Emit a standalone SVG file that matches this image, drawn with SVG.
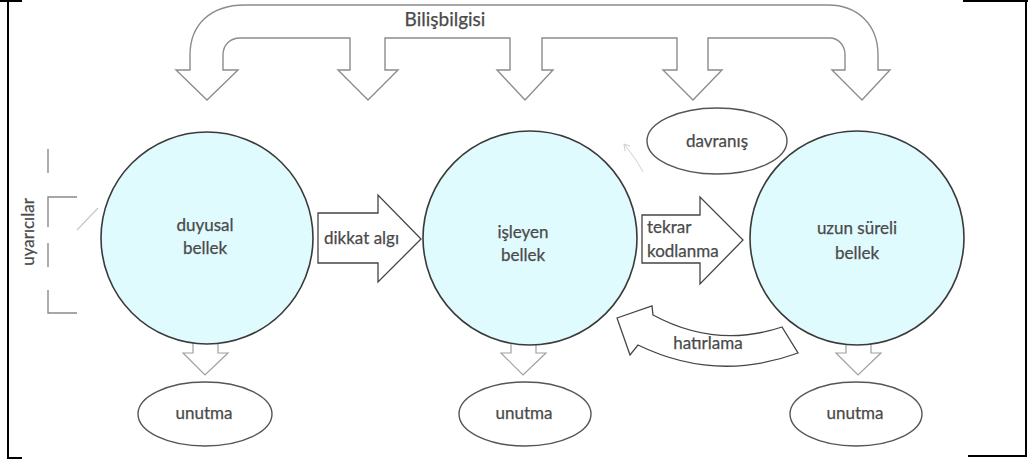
<svg xmlns="http://www.w3.org/2000/svg" width="1028" height="459" viewBox="0 0 1028 459">
<style>
.t{font-family:Lato,"Open Sans","Liberation Sans",sans-serif;font-size:17px;fill:#4a4a4a;stroke:#4a4a4a;stroke-width:0.25;}
.c{fill:#e0fbfd;stroke:#3a3a3a;stroke-width:1.6;}
.e{fill:#fff;stroke:#555;stroke-width:1.4;}
.big{fill:#fff;stroke:#8c8c8c;stroke-width:1.4;stroke-linejoin:miter;}
.arr{fill:#fff;stroke:#444;stroke-width:1.3;}
.sm{fill:#fff;stroke:#a0a0a0;stroke-width:1.2;}
.br{fill:none;stroke:#8a8a8a;stroke-width:1.4;}
.fr{fill:none;stroke:#000;stroke-width:2;}
</style>
<rect width="1028" height="459" fill="#fff"/>
<g id="frame">
<path class="fr" d="M0,1 H22 M8,0 V458 H22"/>
<path class="fr" d="M963,1 H1028 M1026,0 V456 H968"/>
</g>
<g id="connectors">
<path class="big" d="M190,70 L190,55 C190,25 210,5 245,5 L828,5 C858,5 878,25 878,55 L878,70 L890,70 L862,100 L832,70 L845,70 L845,55 C845,45 838,38 830,38 L708,38 L708,70 L722,70 L693,100 L663,70 L677,70 L677,38 L542,38 L542,70 L553,70 L525,100 L497,70 L510,70 L510,38 L385,38 L385,70 L398,70 L368,100 L338,70 L350,70 L350,38 L240,38 C230,38 223,45 223,55 L223,70 L238,70 L207,100 L176,70 Z"/>
<text class="t" x="445" y="26" text-anchor="middle" style="font-size:19px">Bilişbilgisi</text>
<path class="arr" d="M318,213 L378,213 L378,195 L421,239 L378,282 L378,263 L318,263 Z"/>
<text class="t" x="324" y="244">dikkat algı</text>
<path class="arr" d="M642,215 L700,215 L700,197 L743,240 L700,284 L700,263 L642,263 Z"/>
<text class="t" x="647" y="233">tekrar</text>
<text class="t" x="647" y="257">kodlanma</text>
<path class="arr" d="M617,318 L652,306 L653,315 Q716,349 782,327 L798,353 Q716,383 638,345 L630,355 Z" stroke="#777"/>
<text class="t" x="708" y="349" text-anchor="middle">hatırlama</text>
<path class="sm" d="M193,335 V353 H183 L205,375 L228,353 H218 V335 Z"/>
<path class="sm" d="M511,335 V353 H501 L523,375 L546,353 H536 V335 Z"/>
<path class="sm" d="M846,335 V353 H836 L858,375 L881,353 H871 V335 Z"/>
<path d="M77,230 L98,208" stroke="#c8c8c8" stroke-width="1.2" fill="none"/>
<path d="M643,172 L636,160 L630,152 L624,144 M624,144 L625,151 M624,144 L630,146" stroke="#cfcfcf" stroke-width="1" fill="none"/>
</g>
<g id="uyaricilar">
<path class="br" d="M48,149 V173 M77,197 H48 V227 M48,243 V267 M48,290 V313 H77"/>
<text class="t" transform="translate(34,232) rotate(-90)" text-anchor="middle">uyarıcılar</text>
</g>
<g id="duyusal">
<circle class="c" cx="207" cy="238" r="106"/>
<text class="t" x="205" y="231" text-anchor="middle">duyusal</text>
<text class="t" x="205" y="254" text-anchor="middle">bellek</text>
</g>
<g id="isleyen">
<circle class="c" cx="530" cy="238" r="107"/>
<text class="t" x="523" y="238" text-anchor="middle">işleyen</text>
<text class="t" x="523" y="261" text-anchor="middle">bellek</text>
</g>
<g id="uzun">
<circle class="c" cx="857" cy="238" r="107"/>
<text class="t" x="857" y="234" text-anchor="middle">uzun süreli</text>
<text class="t" x="857" y="259" text-anchor="middle">bellek</text>
</g>
<g id="davranis">
<ellipse class="e" cx="717" cy="141" rx="70" ry="33"/>
<text class="t" x="717" y="147" text-anchor="middle">davranış</text>
</g>
<g id="unutma1">
<ellipse class="e" cx="205" cy="414" rx="67" ry="32"/>
<text class="t" x="204" y="419" text-anchor="middle">unutma</text>
</g>
<g id="unutma2">
<ellipse class="e" cx="525" cy="414" rx="66" ry="32"/>
<text class="t" x="524" y="419" text-anchor="middle">unutma</text>
</g>
<g id="unutma3">
<ellipse class="e" cx="856" cy="414" rx="66" ry="32"/>
<text class="t" x="855" y="419" text-anchor="middle">unutma</text>
</g>
</svg>
